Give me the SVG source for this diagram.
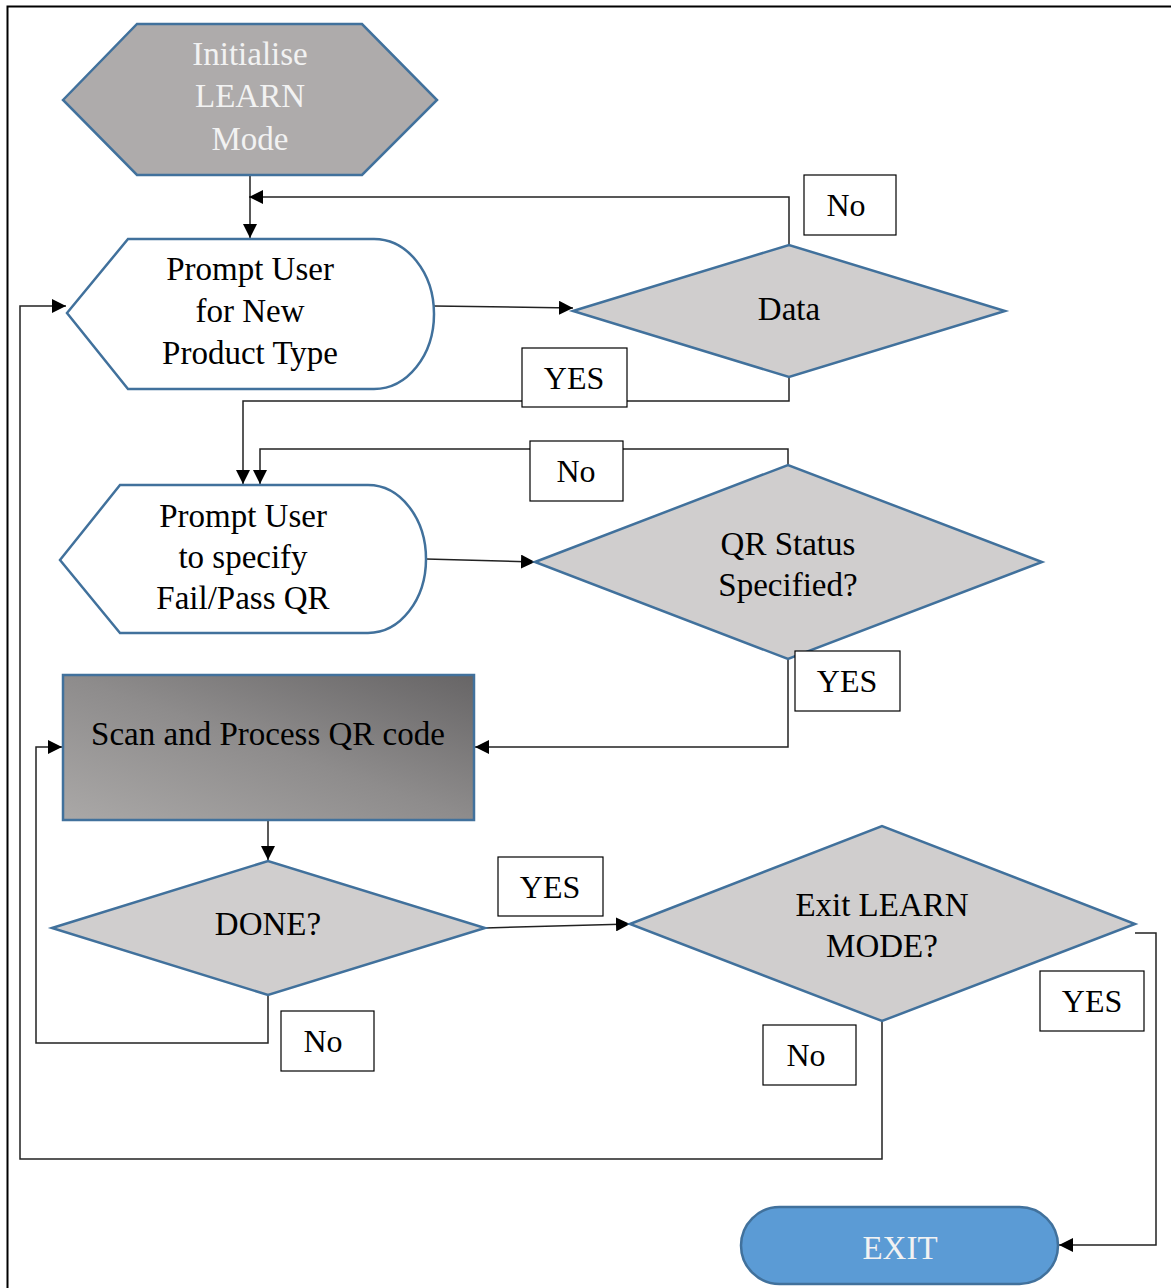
<svg xmlns="http://www.w3.org/2000/svg" width="1171" height="1288" viewBox="0 0 1171 1288">
  <style>
    .shape { stroke: #41719C; stroke-width: 2.5; }
    .decision { fill: #D0CECE; }
    .io { fill: #FFFFFF; }
    .txt { font-family: "Liberation Serif", "Times New Roman", serif; font-size: 33px; fill: #000; text-anchor: middle; }
    .light { fill: #F2F2F2; }
    .lbl rect { fill: #FFFFFF; stroke: #000; stroke-width: 1.2; }
    .lbl text { font-family: "Liberation Serif", "Times New Roman", serif; font-size: 32px; fill: #000; text-anchor: middle; }
    .conn { fill: none; stroke: #222; stroke-width: 1.5; }
  </style>
  <defs>
    <marker id="arrow" viewBox="0 0 14 14" refX="14" refY="7" markerWidth="14" markerHeight="14" markerUnits="userSpaceOnUse" orient="auto">
      <path d="M0,0 L14,7 L0,14 Z" fill="#000"/>
    </marker>
    <linearGradient id="scanFill" x1="0" y1="1" x2="1" y2="0">
      <stop offset="0" stop-color="#AAA8A7"/>
      <stop offset="0.5" stop-color="#8E8C8C"/>
      <stop offset="1" stop-color="#676566"/>
    </linearGradient>
  </defs>

  <rect width="1171" height="1288" fill="#FFFFFF"/>
  <!-- page frame -->
  <path d="M7.5,1288 V6.5 H1171" fill="none" stroke="#000" stroke-width="2"/>

  <!-- connectors -->
  <g id="connectors">
    <path class="conn" d="M250,175 V238" marker-end="url(#arrow)"/>
    <path class="conn" d="M789,245 V197 H249" marker-end="url(#arrow)"/>
    <path class="conn" d="M434,306 L573,308" marker-end="url(#arrow)"/>
    <path class="conn" d="M789,377 V401 H243 V484" marker-end="url(#arrow)"/>
    <path class="conn" d="M788,465 V449 H260 V484" marker-end="url(#arrow)"/>
    <path class="conn" d="M426,559 L535,562" marker-end="url(#arrow)"/>
    <path class="conn" d="M788,659 V747 H475" marker-end="url(#arrow)"/>
    <path class="conn" d="M268,820 V860" marker-end="url(#arrow)"/>
    <path class="conn" d="M485,928 L630,924" marker-end="url(#arrow)"/>
    <path class="conn" d="M268,995 V1043 H36 V747 H62" marker-end="url(#arrow)"/>
    <path class="conn" d="M882,1021 V1159 H20 V306 H66" marker-end="url(#arrow)"/>
    <path class="conn" d="M1135,933 H1156 V1245 H1059" marker-end="url(#arrow)"/>
  </g>

  <!-- start: initialise -->
  <g id="node-init">
    <polygon class="shape" fill="#AEABAB" points="63,100 137,24 362,24 437,100 362,175 137,175"/>
    <text class="txt light" x="250" y="65">Initialise</text>
    <text class="txt light" x="250" y="107">LEARN</text>
    <text class="txt light" x="250" y="150">Mode</text>
  </g>

  <!-- display: new product type -->
  <g id="node-prompt-type">
    <path class="shape io" d="M67,313 L128,239 H374 A60,75 0 0 1 374,389 H128 Z"/>
    <text class="txt" x="250" y="280">Prompt User</text>
    <text class="txt" x="250" y="322">for New</text>
    <text class="txt" x="250" y="364">Product Type</text>
  </g>

  <g id="node-data">
    <polygon class="shape decision" points="573,311 789,245 1005,311 789,377"/>
    <text class="txt" x="789" y="320">Data</text>
  </g>

  <!-- display: fail/pass -->
  <g id="node-prompt-qr">
    <path class="shape io" d="M60,560 L120,485 H368 A58,74 0 0 1 368,633 H120 Z"/>
    <text class="txt" x="243" y="527">Prompt User</text>
    <text class="txt" x="243" y="568">to specify</text>
    <text class="txt" x="243" y="609">Fail/Pass QR</text>
  </g>

  <g id="node-qr-status">
    <polygon class="shape decision" points="535,562 788,465 1042,562 788,659"/>
    <text class="txt" x="788" y="555">QR Status</text>
    <text class="txt" x="788" y="596">Specified?</text>
  </g>

  <g id="node-scan">
    <rect class="shape" x="63" y="675" width="411" height="145" fill="url(#scanFill)"/>
    <text class="txt" x="268" y="745">Scan and Process QR code</text>
  </g>

  <g id="node-done">
    <polygon class="shape decision" points="52,928 268,861 485,928 268,995"/>
    <text class="txt" x="268" y="935">DONE?</text>
  </g>

  <g id="node-exit-learn">
    <polygon class="shape decision" points="630,924 882,826 1135,924 882,1021"/>
    <text class="txt" x="882" y="916">Exit LEARN</text>
    <text class="txt" x="882" y="957">MODE?</text>
  </g>

  <g id="node-exit">
    <rect class="shape" x="741" y="1207" width="317" height="77" rx="38.5" ry="38.5" fill="#5B9BD5"/>
    <text class="txt light" x="900" y="1259">EXIT</text>
  </g>

  <!-- branch labels -->
  <g id="labels">
    <g class="lbl"><rect x="804" y="175" width="92" height="60"/><text x="846" y="216">No</text></g>
    <g class="lbl"><rect x="522" y="348" width="105" height="59"/><text x="574" y="389">YES</text></g>
    <g class="lbl"><rect x="530" y="441" width="93" height="60"/><text x="576" y="482">No</text></g>
    <g class="lbl"><rect x="795" y="651" width="105" height="60"/><text x="847" y="692">YES</text></g>
    <g class="lbl"><rect x="498" y="857" width="105" height="59"/><text x="550" y="898">YES</text></g>
    <g class="lbl"><rect x="281" y="1011" width="93" height="60"/><text x="323" y="1052">No</text></g>
    <g class="lbl"><rect x="763" y="1025" width="93" height="60"/><text x="806" y="1066">No</text></g>
    <g class="lbl"><rect x="1040" y="971" width="104" height="60"/><text x="1092" y="1012">YES</text></g>
  </g>
</svg>
